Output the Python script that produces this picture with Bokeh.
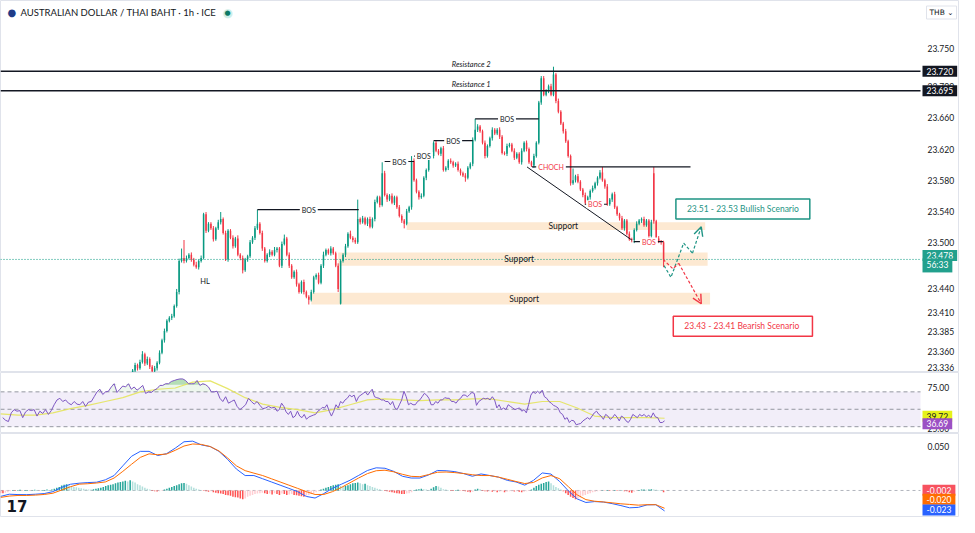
import numpy as np
from bokeh.plotting import figure
from bokeh.models import Range1d, Label, Arrow, OpenHead
from bokeh.layouts import column
from bokeh.embed import file_html
from bokeh.resources import INLINE

# ---------------- data ----------------
first_index = 52
first_open = 23.330
closes = [
23.335,23.342,23.338,23.346,23.356,23.344,23.350,23.340,23.334,23.338,
23.345,23.358,23.374,23.386,23.399,23.403,23.405,23.418,23.436,23.476,
23.480,23.476,23.480,23.484,23.478,23.471,23.468,23.476,23.480,23.536,
23.515,23.524,23.518,23.504,23.518,23.526,23.530,23.512,23.478,23.515,
23.506,23.495,23.505,23.484,23.480,23.464,23.478,23.482,23.500,23.506,
23.518,23.524,23.512,23.492,23.476,23.484,23.488,23.484,23.490,23.492,
23.470,23.498,23.505,23.484,23.470,23.455,23.462,23.446,23.436,23.449,
23.436,23.430,23.426,23.436,23.455,23.458,23.448,23.470,23.484,23.490,
23.486,23.492,23.486,23.470,23.440,23.476,23.484,23.495,23.511,23.506,
23.503,23.500,23.530,23.526,23.531,23.524,23.530,23.520,23.530,23.552,
23.558,23.548,23.589,23.561,23.555,23.560,23.551,23.558,23.545,23.534,
23.528,23.524,23.540,23.545,23.605,23.580,23.565,23.558,23.560,23.583,
23.593,23.609,23.611,23.628,23.618,23.614,23.621,23.593,23.596,23.605,
23.603,23.599,23.601,23.593,23.589,23.586,23.583,23.596,23.601,23.632,
23.645,23.649,23.643,23.628,23.611,23.624,23.634,23.645,23.640,23.645,
23.636,23.615,23.614,23.624,23.626,23.618,23.609,23.614,23.603,23.618,
23.628,23.620,23.603,23.599,23.611,23.628,23.680,23.711,23.690,23.695,
23.701,23.690,23.716,23.682,23.668,23.653,23.643,23.630,23.611,23.576,
23.580,23.585,23.578,23.568,23.561,23.551,23.558,23.566,23.570,23.576,
23.583,23.590,23.580,23.572,23.549,23.555,23.562,23.545,23.536,23.531,
23.518,23.528,23.511,23.504,23.503,23.516,23.524,23.528,23.530,23.522,
23.528,23.508,23.526,23.527,23.505,23.501,23.500,23.478]
open_gaps = {137: 23.421, 265: 23.589}
wick_up_pips = [
2,3,2,3,4,2,3,2,2,3, 2,3,2,3,2,2,3,2,4,3, 12,23,3,2,3,2,4,2,3,2,
3,2,2,3,2,3,9,2,3,2, 2,3,2,4,2,3,2,2,3,2, 3,18,2,3,2,2,3,2,4,2,
2,3,5,2,3,2,2,3,2,2, 3,2,2,3,2,2,3,2,4,2, 2,3,2,2,3,2,2,3,2,4,
2,3,25,2,3,2,2,3,2,3, 2,2,14,3,2,2,3,2,2,3, 2,2,3,2,6,3,2,2,3,2,
2,3,2,2,3,2,2,3,2,2, 3,2,2,3,2,2,3,2,2,3, 14,3,2,2,3,2,2,3,2,2,
3,2,2,3,2,2,3,2,2,3, 2,3,2,2,3,2,2,3,3,2, 2,3,10,2,3,2,2,3,2,2,
15,2,3,2,2,3,2,2,3,2, 2,3,7,2,3,2,2,3,2,2, 3,2,2,3,2,2,3,2,2,3,
2,2,3,8,2,3,2,2]
wick_down_pips = [
3,2,3,2,2,3,2,3,2,2, 3,2,2,3,2,2,3,2,2,3, 2,3,2,2,3,2,2,3,2,2,
3,2,2,3,2,2,3,2,2,3, 2,3,2,2,3,4,2,3,2,2, 3,2,2,3,2,2,3,2,2,3,
2,3,2,2,3,2,2,3,2,2, 3,2,6,2,2,3,2,2,3,2, 2,3,2,2,4,1,2,3,2,2,
3,2,2,3,2,2,3,2,2,3, 2,3,2,2,3,2,2,3,2,2, 3,6,2,2,3,2,2,3,2,2,
3,2,2,3,2,2,3,2,2,3, 2,3,2,2,3,2,5,2,2,3, 2,3,2,2,3,2,2,3,2,2,
3,2,2,3,2,2,3,2,2,3, 2,3,2,2,3,2,2,3,2,2, 3,2,2,3,2,2,3,2,2,3,
2,3,2,2,3,2,2,3,2,2, 3,2,2,3,2,2,3,2,2,3, 2,3,2,2,3,4,2,2,3,2,
2,3,2,3,2,2,3,10]

price_ticks = [23.336, 23.360, 23.385, 23.410, 23.440, 23.500, 23.540, 23.580, 23.620, 23.660, 23.700, 23.750]
resistance_levels = [23.720, 23.695]
resistance_names = ["Resistance 2", "Resistance 1"]
last_price = 23.478
countdown = "56:33"

# support zones: (start bar, end bar, top, bottom)
support_start = [164, 136, 125]
support_end = [286, 287, 288]
support_top = [23.526, 23.487, 23.435]
support_bottom = [23.516, 23.470, 23.420]
support_label_bar = [228, 210, 212]

# structure breaks: (start bar, end bar, level, label bar, text, red text?)
bos_start = [103, 155, 167, 175, 192, 215.2, 236.8, 256.8]
bos_end = [144.4, 167, 174, 191, 218, 280, 246, 268.8]
bos_level = [23.542, 23.604, 23.611, 23.631, 23.659, 23.597, 23.549, 23.501]
bos_label_bar = [124, 161, 171, 183, 205, 223, 241, 263]
bos_text = ["BOS", "BOS", "BOS", "BOS", "BOS", "CHOCH", "BOS", "BOS"]
bos_red = [False, False, False, False, False, True, True, True]
trend_bars = [213.2, 256]
trend_prices = [23.597, 23.503]

bull_path_bars = [269.2, 272.0, 277.2, 280.8, 284.4]
bull_path_prices = [23.470, 23.455, 23.499, 23.486, 23.520]
bear_path_bars = [268.8, 272.8, 275.2, 284.4]
bear_path_prices = [23.478, 23.466, 23.473, 23.421]
bull_text = "23.51 - 23.53 Bullish Scenario"
bear_text = "23.43 -  23.41 Bearish Scenario"

# RSI (14) and its moving average
rsi_part_a = [
40.4,37.4,35.9,45.9,49.6,47.8,48.5,40.4,47.0,49.6,
48.5,49.6,42.2,47.8,45.2,49.6,44.1,48.5,55.2,60.7,
62.6,58.9,60.7,57.0,55.2,58.9,55.9,55.2,58.9,53.3,
58.2,58.9,64.4,70.0,73.0,67.0,70.0,70.7,75.6,79.3,
69.3,73.0,76.7,75.6,79.3,73.0,75.6,71.9,74.4,77.4,
68.2,70.0,69.3,71.9,73.7,77.4,77.4,79.3,79.3,81.9,
83.0,84.1,84.8,84.8,83.0,79.3,79.3,79.3,83.0,77.4,
79.3,78.2,75.6,70.0,70.0,70.7,62.6,58.9,64.4,57.0,
58.9,60.7,53.3,49.6,52.2,55.2,62.6,58.9,55.9,58.9,
54.5,50.7,51.5,53.3,51.5]
rsi_part_b = [
52.2,47.8,49.6,57.0,53.3,47.0,44.1,47.8,40.4,42.2,
47.8,42.2,40.4,44.1,38.5,41.1,42.2,43.3,44.1,47.8,
49.6,52.2,51.5,55.2,47.8,42.2,47.8,55.2,51.5,58.9,
57.0,60.7,62.6,66.3,64.4,66.3,58.9,64.4,66.3,68.2,
70.0,66.3,70.0,73.0,64.4,63.3,62.6,60.7,60.7,58.9,
58.9,55.2,58.9,51.5,49.6,55.2,60.7,70.7,64.4,55.2,
57.0,55.2,55.2,58.9,60.7,64.4,68.2,66.3,62.6,55.2,
55.2,58.9,57.0,60.7,60.7,63.3,62.6,62.6,58.9,58.9,
57.0,60.7,62.6,66.3,66.3,64.4,67.0,69.3,68.2,54.5,
58.9,60.7,62.6,61.9,62.6,60.7,64.4,60.7,51.5,55.2,
49.6,51.5,49.6,55.2,53.3,51.5,49.6,50.7,51.5,47.8,
49.6,45.9,55.2,66.3,70.0,68.2,70.7,68.2,71.9,64.4,
62.6,58.9,57.0,54.5,53.3,51.5,45.9,44.1,38.5,40.4,
34.8,37.4,36.7,32.2,33.0,33.7,36.7,38.5,40.4,38.5,
42.2,45.9,47.8,44.1,42.2,38.5,44.1,42.2,38.5,40.4,
44.1,41.1,36.7,42.2,40.4,36.7,34.8,38.5,44.1,42.2,
40.4,44.1,42.2,44.1,41.1,43.3,40.4,45.9,41.1,40.4,
34.8,34.8,36.69]
rsi_span_a = (-1.1, 108.7)
rsi_span_b = (110.1, 269.4)
rsi_ma = [44.8,43.3,43.3,45.9,50.7,54.5,58.9,63.3,70.0,73.0,
74.4,81.1,82.6,73.7,63.3,55.9,52.2,49.6,45.9,49.6,
55.2,60.7,61.9,60.7,60.0,60.7,60.7,61.9,61.9,58.9,
55.9,58.9,58.9,51.5,42.2,40.4,40.4,40.4,39.72]
rsi_ticks = [25, 75]

# MACD (12, 26, 9)
macd_line = [
-0.0067,-0.0042,-0.0046,-0.0047,-0.0042,-0.0035,-0.0013,0.0035,0.0070,0.0082,
0.0089,0.0093,0.0120,0.0168,0.0277,0.0385,0.0440,0.0440,0.0393,0.0414,
0.0476,0.0548,0.0555,0.0512,0.0494,0.0440,0.0349,0.0241,0.0168,0.0168,
0.0132,0.0096,0.0060,0.0024,-0.0013,-0.0067,-0.0085,-0.0035,0.0025,0.0070,
0.0115,0.0170,0.0225,0.0255,0.0250,0.0215,0.0160,0.0140,0.0140,0.0175,
0.0225,0.0222,0.0212,0.0190,0.0160,0.0186,0.0168,0.0150,0.0114,0.0096,
0.0060,0.0114,0.0197,0.0185,0.0100,-0.0005,-0.0095,-0.0135,-0.0125,-0.0130,
-0.0148,-0.0170,-0.0195,-0.0190,-0.0162,-0.0160,-0.0230]
signal_line = [
-0.0078,-0.0063,-0.0056,-0.0056,-0.0052,-0.0045,-0.0031,0.0005,0.0042,0.0071,
0.0076,0.0084,0.0096,0.0140,0.0215,0.0295,0.0372,0.0412,0.0402,0.0410,
0.0452,0.0500,0.0523,0.0518,0.0494,0.0445,0.0365,0.0277,0.0223,0.0195,
0.0168,0.0132,0.0096,0.0060,0.0024,-0.0013,-0.0045,-0.0045,-0.0013,0.0033,
0.0087,0.0141,0.0190,0.0222,0.0228,0.0210,0.0182,0.0159,0.0155,0.0179,
0.0205,0.0208,0.0201,0.0191,0.0177,0.0168,0.0168,0.0150,0.0126,0.0101,
0.0078,0.0090,0.0141,0.0168,0.0132,0.0042,-0.0049,-0.0103,-0.0121,-0.0129,
-0.0139,-0.0150,-0.0157,-0.0165,-0.0160,-0.0160,-0.0200]
macd_span = (-2.0, 269.4)
hist_first_bar = -2
hist_milli = [
-3,-3,-2.5,-2,-1,
0.5,-0.5,0.5,0.8,-0.3,0.5,0.6,-0.4,0.3,0.8,0.6,-0.3,0.4,0.5,1.0,0.6,1.2,2.0,
3,4,5.5,6.5,7,6,5,
4,3.5,3,2.5,2,1.5,1.2,1,1.5,
2,2.5,3,4,5,6,6.5,7,8,9,9.5,10,
11,10,11.5,10,9,
7,6,4.5,3,2,1,
-0.5,-1,-1.2,-0.8,-0.5,
1,2,3,4,5,6,7,8,8.5,7.5,6,
4.5,3,2,1,0.3,
-0.5,-1,-1.5,-1,-2,-2.5,-3,
-3.5,-4,-5,-5.5,-6,-7,-7.5,-8,-9,-10,-9,
-7,-6,-5,-4,-3.5,-3,-2.5,
-3,-4,-3.5,-4.5,-3,-4,-5,-3.5,-4,-5,-4.5,-4,-5,-5.5,
-6,-6.5,-7,-6,-5,-4,-3,
-2,-1,
1,2,3,4,5,6,6.5,7,5,
4,5,6,7,8,8.5,9,8,7,
7.5,6,5,4,3,2,1.5,0.5,
-0.5,-1,-1.5,-2,-2.5,-3,
-3.5,-4,-4,-3.5,-3,-2,
0.5,1,1.5,2,1.5,1,0.5,
2,3.5,5,4.5,3,
1.5,1,0.5,-0.5,-0.5,0.5,0.8,-0.3,-0.5,-1,-1.5,
-2,-1.5,
1,2,1.5,
-0.5,-1,-1.2,-0.8,-1.5,-1,-2,-1.5,-1,-2,-1.5,-1,-0.8,-1.2,-1,-1.5,-2,-1.5,-1,-0.5,
1,3,5,6.5,7.5,8.5,9.5,10,8,
6,4,2.5,1,
-1,-3,-5,-7,-8.5,-10,-9,-8,-6,
-5,-4,-3,-2,-1.5,-1,
-0.5,0.3,-0.3,0.5,-0.5,-0.3,0.4,-0.6,-0.4,0.3,-0.8,-1,
-2,-2.5,-1.5,-0.5,
0.5,1,1.2,0.8,1,1.3,1,0.8,0.6,0.3,
-2]
macd_ticks = [0.05]
macd_tags = ["-0.002", "-0.020", "-0.023"]
macd_tag_values = [-0.002, -0.020, -0.023]

# ---------------- style ----------------
FONT = "Lato"
TXT = "#131722"
UP = "#089981"
DN = "#f23645"
W = 959
CHART_PX = 920                     # width of the candle area, the price scale sits to its right
X0, XE = -2, 374                   # bar range of the candle area
X1 = X0 + (XE - X0) * W / CHART_PX  # full frame incl. price scale column

xr = Range1d(X0, X1)


def make(h, y0, y1):
    p = figure(width=W, height=h, x_range=xr, y_range=Range1d(y0, y1),
               x_axis_location=None, y_axis_location=None,
               output_backend="svg", toolbar_location=None,
               min_border_left=0, min_border_right=0, min_border_top=0, min_border_bottom=0)
    p.xgrid.visible = False
    p.ygrid.visible = False
    p.outline_line_color = "#e0e3eb"
    p.background_fill_color = "white"
    p.border_fill_color = "white"
    return p


def ticks(p, vals, fmt, bottom_tick=None):
    for t in vals:
        low = (t == bottom_tick)
        p.add_layout(Label(x=XE, y=t, x_offset=7, y_offset=(-1 if low else 0), text=fmt % t,
                           text_align="left", text_baseline=("bottom" if low else "middle"),
                           text_font=FONT, text_font_size="8.5px", text_color=TXT))


def tag(p, y, text, bg, fg="white", dy=0):
    p.add_layout(Label(x=XE, y=y, x_offset=2, y_offset=dy, text=text, text_align="left",
                       text_baseline="middle", text_font=FONT, text_font_size="8.5px",
                       text_color=fg, background_fill_color=bg,
                       padding=dict(left=4, right=4, top=2, bottom=2)))


# ---------------- price pane ----------------
PY0, PY1 = 23.3325, 23.8112
p1 = make(372, PY0, PY1)

p1.quad(left=support_start, right=support_end, top=support_top, bottom=support_bottom,
        fill_color="#fde9d2", line_color=None)

c = np.array(closes)
n = len(c)
bars = np.arange(first_index, first_index + n)
o = np.empty(n)
o[0] = first_open
o[1:] = c[:-1]
for k, v in open_gaps.items():
    o[k - first_index] = v
body_top = np.maximum(o, c)
body_bot = np.minimum(o, c)
hi = body_top + np.array(wick_up_pips) * 0.001
lo = body_bot - np.array(wick_down_pips) * 0.001
cols = [UP if cc >= oo else DN for oo, cc in zip(o, c)]
p1.segment(x0=bars, y0=hi, x1=bars, y1=lo, line_color=cols, line_width=1)
p1.vbar(x=bars, width=0.62, top=body_top, bottom=np.where(body_top - body_bot < 0.0008, body_bot - 0.0008, body_bot),
        fill_color=cols, line_color=None)

for lvl, name in zip(resistance_levels, resistance_names):
    p1.segment(x0=[X0], y0=[lvl], x1=[XE], y1=[lvl], line_color=TXT, line_width=1.5)
    p1.add_layout(Label(x=190.4, y=lvl, y_offset=2, text=name, text_align="center", text_baseline="bottom",
                        text_font=FONT, text_font_size="7.5px", text_font_style="italic", text_color=TXT))

p1.segment(x0=[X0], y0=[last_price], x1=[XE], y1=[last_price], line_color=UP, line_width=1, line_dash="1 2")

for s, e, lv, lb, tx, red in zip(bos_start, bos_end, bos_level, bos_label_bar, bos_text, bos_red):
    p1.segment(x0=[s], y0=[lv], x1=[e], y1=[lv], line_color="#131722", line_width=1.2)
    p1.add_layout(Label(x=lb, y=lv, text=tx, text_align="center", text_baseline="middle",
                        text_font=FONT, text_font_size="7px", text_color=(DN if red else TXT),
                        background_fill_color="white", padding=dict(left=2, right=2, top=0, bottom=0)))
p1.line(trend_bars, trend_prices, line_color="#131722", line_width=1)

for a, b, t, bt, lb in zip(support_start, support_end, support_top, support_bottom, support_label_bar):
    p1.add_layout(Label(x=lb, y=(t + bt) / 2, text="Support", text_align="center", text_baseline="middle",
                        text_font=FONT, text_font_size="8.5px", text_color=TXT))

p1.add_layout(Label(x=81.6, y=23.450, text="HL", text_align="center", text_baseline="middle",
                    text_font=FONT, text_font_size="7.5px", text_color=TXT))

GREEN = "#1e9484"
p1.line(bull_path_bars[:-1], bull_path_prices[:-1], line_color=GREEN, line_width=1.2, line_dash="3 2")
p1.add_layout(Arrow(end=OpenHead(size=9, line_color=GREEN, line_width=1.4),
                    x_start=bull_path_bars[-2], y_start=bull_path_prices[-2],
                    x_end=bull_path_bars[-1], y_end=bull_path_prices[-1],
                    line_color=GREEN, line_width=1.2, line_dash="3 2"))
p1.line(bear_path_bars[:-1], bear_path_prices[:-1], line_color=DN, line_width=1.2, line_dash="3 2")
p1.add_layout(Arrow(end=OpenHead(size=9, line_color=DN, line_width=1.4),
                    x_start=bear_path_bars[-2], y_start=bear_path_prices[-2],
                    x_end=bear_path_bars[-1], y_end=bear_path_prices[-1],
                    line_color=DN, line_width=1.2, line_dash="3 2"))

p1.add_layout(Label(x=301.4, y=23.543, text=bull_text, text_align="center", text_baseline="middle",
                    text_font=FONT, text_font_size="8.5px", text_color=GREEN,
                    border_line_color=GREEN, border_line_width=1.5, background_fill_color="white",
                    padding=dict(left=11, right=11, top=5, bottom=5)))
p1.add_layout(Label(x=301.4, y=23.392, text=bear_text, text_align="center", text_baseline="middle",
                    text_font=FONT, text_font_size="8.5px", text_color=DN,
                    border_line_color=DN, border_line_width=1.5, background_fill_color="white",
                    padding=dict(left=11, right=11, top=5, bottom=5)))

ticks(p1, price_ticks, "%.3f", bottom_tick=price_ticks[0])
tag(p1, resistance_levels[0], "%.3f" % resistance_levels[0], "#131722")
tag(p1, resistance_levels[1], "%.3f" % resistance_levels[1], "#131722")
tag(p1, last_price, "%.3f" % last_price, "#22a08d", dy=4)
tag(p1, last_price, countdown, "#22a08d", dy=-6)

# title and header
p1.add_layout(Label(x=X0, y=PY1, x_offset=7, y_offset=-12, text="\u25cf", text_baseline="middle",
                    text_font="DejaVu Sans", text_font_size="10px", text_color="#1f3c88"))
p1.add_layout(Label(x=X0, y=PY1, x_offset=20, y_offset=-12, text="AUSTRALIAN DOLLAR / THAI BAHT \u00b7 1h \u00b7 ICE",
                    text_baseline="middle", text_font=FONT, text_font_size="9.5px", text_color=TXT))
p1.add_layout(Label(x=X0, y=PY1, x_offset=222, y_offset=-12, text="\u25cf", text_baseline="middle",
                    text_font="DejaVu Sans", text_font_size="12px", text_color="#cdeee8"))
p1.add_layout(Label(x=X0, y=PY1, x_offset=224, y_offset=-12, text="\u25cf", text_baseline="middle",
                    text_font="DejaVu Sans", text_font_size="7px", text_color="#0b7a66"))
p1.add_layout(Label(x=XE, y=PY1, x_offset=6, y_offset=-12, text="THB \u2304", text_baseline="middle",
                    text_font="DejaVu Sans", text_font_size="7.5px", text_color=TXT, border_line_color="#e0e3eb",
                    padding=dict(left=3, right=3, top=2, bottom=2)))

# ---------------- RSI pane ----------------
p2 = make(61, 22.2, 92.2)
p2.quad(left=[X0], right=[XE], bottom=[30], top=[70], fill_color="#7e57c2", fill_alpha=0.1, line_color=None)
for lv in (70, 50, 30):
    p2.segment(x0=[X0], y0=[lv], x1=[XE], y1=[lv], line_color="#9598a1", line_width=1, line_dash="4 3")
rsi = np.array(rsi_part_a + rsi_part_b)
rsi_x = np.concatenate([np.linspace(rsi_span_a[0], rsi_span_a[1], len(rsi_part_a)),
                        np.linspace(rsi_span_b[0], rsi_span_b[1], len(rsi_part_b))])
p2.varea(x=rsi_x, y1=70, y2=np.maximum(rsi, 70), fill_color="#4caf50", fill_alpha=0.10)
p2.varea(x=rsi_x, y1=78, y2=np.maximum(rsi, 78), fill_color="#4caf50", fill_alpha=0.35)
ma_x = np.linspace(macd_span[0], macd_span[1], len(rsi_ma))
p2.line(ma_x, rsi_ma, line_color="#e4e45c", line_width=1.2, line_alpha=0.9)
p2.line(rsi_x, rsi, line_color="#7e57c2", line_width=1)
ticks(p2, rsi_ticks, "%.2f", bottom_tick=rsi_ticks[0])
tag(p2, rsi_ma[-1], "%.2f" % rsi_ma[-1], "#e6f21c", fg=TXT, dy=2)
tag(p2, rsi[-1], "%.2f" % rsi[-1], "#9c50c4", dy=-3)

# ---------------- MACD pane ----------------
p3 = make(84, -0.0304, 0.0641)
p3.segment(x0=[X0], y0=[0], x1=[XE], y1=[0], line_color="#b2b5be", line_width=1, line_dash="3 3")
h = np.array(hist_milli) * 0.001
hx = np.arange(hist_first_bar, hist_first_bar + len(h))
hcol = []
prev = 0.0
for v in h:
    if v >= 0:
        hcol.append("#26a69a" if v >= prev else "#b2dfdb")
    else:
        hcol.append("#ff5252" if v <= prev else "#ffcdd2")
    prev = v
p3.vbar(x=hx, width=0.62, top=np.maximum(h, 0), bottom=np.minimum(h, 0), fill_color=hcol, line_color=None)
mx = np.linspace(macd_span[0], macd_span[1], len(macd_line))
p3.line(mx, macd_line, line_color="#2962ff", line_width=1)
p3.line(mx, signal_line, line_color="#ff6d00", line_width=1)
ticks(p3, macd_ticks, "%.3f")
tag(p3, macd_tag_values[0], macd_tags[0], "#f7525f", dy=2)
tag(p3, macd_tag_values[1], macd_tags[1], "#ff6d00", dy=9)
tag(p3, macd_tag_values[2], macd_tags[2], "#2962ff", dy=1)
p3.add_layout(Label(x=X0, y=-0.0304, x_offset=6, y_offset=6, text="17", text_baseline="bottom",
                    text_font="DejaVu Sans", text_font_size="15px", text_font_style="bold", text_color=TXT))

layout = column(p1, p2, p3, spacing=0)
open("out.html", "w").write(file_html(layout, INLINE))
